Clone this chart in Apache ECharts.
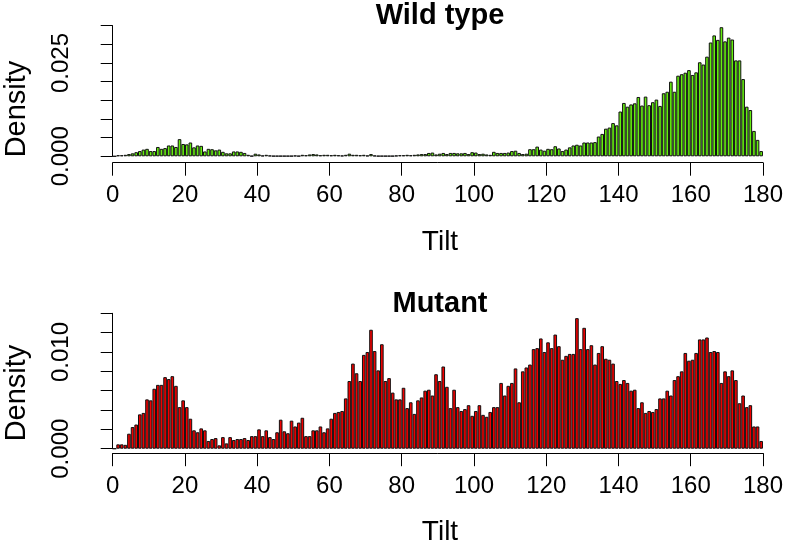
<!DOCTYPE html>
<html><head><meta charset="utf-8">
<script src="https://cdn.jsdelivr.net/npm/echarts@6/dist/echarts.min.js"></script>
<style>html,body{margin:0;padding:0;background:#fff}#c{width:786px;height:554px}</style>
</head><body><div id="c"></div>
<script>
// bin start values (Tilt, width 1)
const bins = [];
for (let i = 0; i < 180; i++) bins.push(String(i));
const xTickLabels = [0, 20, 40, 60, 80, 100, 120, 140, 160, 180];

const wildTypeDensity = [
  0,
  0.0003, 0.0003, 0.0004, 0.0006, 0.0008, 0.0011, 0.0014, 0.0018, 0.0020, 0.0014,
  0.0014, 0.0025, 0.0020, 0.0022, 0.0029, 0.0029, 0.0025, 0.0046, 0.0033, 0.0032,
  0.0037, 0.0024, 0.0029, 0.0028, 0.0013, 0.0020, 0.0019, 0.0016, 0.0018, 0.0012,
  0.0008, 0.0008, 0.0013, 0.0013, 0.0012, 0.0009, 0.0004, 0.0001, 0.0007, 0.0005,
  0.0002, 0.0004, 0.0002, 0.0001, 0.0001, 0.0001, 0.0001, 0.0001, 0.0001, 0.0002,
  0.0001, 0.0004, 0.0003, 0.0005, 0.0006, 0.0005, 0.0003, 0.0004, 0.0004, 0.0003,
  0.0004, 0.0003, 0.0002, 0.0004, 0.0007, 0.0004, 0.0004, 0.0003, 0.0004, 0.0002,
  0.0006, 0.0002, 0.0001, 0.0001, 0.0001, 0.0001, 0.0001, 0.0002, 0.0003, 0.0003,
  0.0004, 0.0003, 0.0004, 0.0005, 0.0006, 0.0006, 0.0009, 0.0010, 0.0005, 0.0007,
  0.0009, 0.0006, 0.0009, 0.0009, 0.0008, 0.0008, 0.0009, 0.0006, 0.0011, 0.0010,
  0.0006, 0.0007, 0.0005, 0.0004, 0.0012, 0.0009, 0.0009, 0.0009, 0.0010, 0.0014,
  0.0015, 0.0009, 0.0006, 0.0007, 0.0019, 0.0019, 0.0026, 0.0018, 0.0015, 0.0020,
  0.0019, 0.0027, 0.0021, 0.0014, 0.0018, 0.0024, 0.0029, 0.0031, 0.0029, 0.0037,
  0.0037, 0.0037, 0.0038, 0.0053, 0.0060, 0.0074, 0.0077, 0.0089, 0.0083, 0.0120,
  0.0143, 0.0133, 0.0139, 0.0142, 0.0159, 0.0136, 0.0160, 0.0137, 0.0145, 0.0152,
  0.0135, 0.0169, 0.0173, 0.0200, 0.0173, 0.0216, 0.0220, 0.0224, 0.0231, 0.0218,
  0.0225, 0.0252, 0.0246, 0.0267, 0.0305, 0.0324, 0.0312, 0.0346, 0.0308, 0.0318,
  0.0313, 0.0257, 0.0257, 0.0207, 0.0133, 0.0124, 0.0068, 0.0044, 0.0014
];

const mutantDensity = [
  0,
  0.00045, 0.00045, 0.0004, 0.00155, 0.00224, 0.0025, 0.00355, 0.0037, 0.0051, 0.0050,
  0.0062, 0.0066, 0.0066, 0.0074, 0.0072, 0.0075, 0.0065, 0.0043, 0.0050, 0.0043,
  0.0031, 0.0019, 0.0017, 0.0021, 0.0019, 0.0008, 0.0010, 0.0011, 0.00035, 0.0012,
  0.00055, 0.0012, 0.0009, 0.0010, 0.0010, 0.0011, 0.0009, 0.0013, 0.0013, 0.0020,
  0.0013, 0.0019, 0.0012, 0.0010, 0.0017, 0.0030, 0.0018, 0.0016, 0.0029, 0.0023,
  0.0027, 0.0032, 0.0013, 0.0013, 0.0019, 0.0019, 0.0023, 0.0017, 0.0021, 0.0031,
  0.0037, 0.0038, 0.0039, 0.0052, 0.0070, 0.0088, 0.0078, 0.0070, 0.0097, 0.0100,
  0.0123, 0.0101, 0.0081, 0.0108, 0.0070, 0.0073, 0.0058, 0.0051, 0.0051, 0.0063,
  0.0042, 0.0048, 0.0036, 0.0050, 0.0053, 0.0060, 0.0061, 0.0055, 0.0077, 0.0070,
  0.0085, 0.0064, 0.0042, 0.0061, 0.0043, 0.0039, 0.0041, 0.0045, 0.0034, 0.0039,
  0.0045, 0.0035, 0.0033, 0.0038, 0.0043, 0.0043, 0.0068, 0.0055, 0.0065, 0.0068,
  0.0083, 0.0048, 0.0080, 0.0084, 0.0087, 0.0103, 0.0104, 0.0114, 0.0100, 0.0110,
  0.0104, 0.0118, 0.0106, 0.0092, 0.0096, 0.0098, 0.0098, 0.0135, 0.0103, 0.0125,
  0.0103, 0.0107, 0.0087, 0.0099, 0.0106, 0.0093, 0.0092, 0.0088, 0.0070, 0.0067,
  0.0071, 0.0068, 0.0060, 0.0061, 0.0042, 0.0048, 0.0037, 0.0039, 0.0038, 0.0041,
  0.0052, 0.0052, 0.0060, 0.0055, 0.0071, 0.0075, 0.0080, 0.0099, 0.0091, 0.0092,
  0.0099, 0.0113, 0.0113, 0.0115, 0.0100, 0.0101, 0.0100, 0.0068, 0.0080, 0.0075,
  0.0081, 0.0071, 0.0047, 0.0055, 0.0043, 0.0045, 0.0023, 0.0023, 0.0008
];

const wildTypeYLabels = ['0.000', '0.025'];
const mutantYLabels = ['0.000', '0.010'];

const FONT = '"Liberation Sans", Arial, Helvetica, sans-serif';
const chart = echarts.init(document.getElementById('c'), null, { renderer: 'canvas' });

function catAxis(gi) {
  return { type: 'category', gridIndex: gi, data: bins, boundaryGap: true, show: false };
}
function valXAxis(gi, off) {
  return {
    type: 'value', gridIndex: gi, min: xTickLabels[0], max: xTickLabels[xTickLabels.length - 1],
    interval: 20, position: 'bottom', offset: off,
    axisLine: { show: true, lineStyle: { color: '#000', width: 1 } },
    axisTick: { show: true, length: 13, inside: false, lineStyle: { color: '#000', width: 1 } },
    axisLabel: { show: true, color: '#000', fontSize: 24, fontFamily: FONT, margin: 21,
      formatter: v => xTickLabels.indexOf(Math.round(v)) >= 0 ? String(Math.round(v)) : '' },
    splitLine: { show: false }
  };
}
function yAxis(gi, max, interval, shown) {
  return {
    type: 'value', gridIndex: gi, min: 0, max: max, interval: interval, offset: 22.7,
    axisLine: { show: true, lineStyle: { color: '#000', width: 1 } },
    axisTick: { show: true, length: 12, inside: false, lineStyle: { color: '#000', width: 1 } },
    axisLabel: { show: true, rotate: 90, color: '#000', fontSize: 24, fontFamily: FONT, margin: 17,
      formatter: v => { const s = v.toFixed(3); return shown.indexOf(s) >= 0 ? s : ''; } },
    splitLine: { show: false }
  };
}
function barSeries(xi, yi, data, color) {
  return {
    type: 'bar', xAxisIndex: xi, yAxisIndex: yi, data: data,
    barWidth: '100%', barCategoryGap: '0%', barGap: '0%', silent: true,
    itemStyle: { color: color, borderColor: '#111', borderWidth: 1 }
  };
}
function txt(x, y, s, size, bold, rot) {
  return { type: 'text', x: x, y: y, rotation: rot || 0, silent: true,
    style: { text: s, fill: '#000', font: (bold ? 'bold ' : '') + size + 'px ' + FONT,
      textAlign: 'center', textVerticalAlign: 'middle' } };
}

chart.setOption({
  animation: false,
  backgroundColor: '#fff',
  grid: [
    { left: 112.7, width: 653.3, top: 25.7, height: 130.6 },
    { left: 112.7, width: 653.3, top: 313.3, height: 135.4 }
  ],
  xAxis: [catAxis(0), valXAxis(0, 6.4), catAxis(1), valXAxis(1, 4.5)],
  yAxis: [yAxis(0, 0.035, 0.005, wildTypeYLabels), yAxis(1, 0.014, 0.002, mutantYLabels)],
  series: [
    barSeries(0, 0, wildTypeDensity, '#66EE11'),
    barSeries(2, 1, mutantDensity, '#F00000')
  ],
  graphic: [
    txt(440, 16, 'Wild type', 29, true),
    txt(440, 304, 'Mutant', 29, true),
    txt(17, 109, 'Density', 29, false, Math.PI / 2),
    txt(17, 393, 'Density', 29, false, Math.PI / 2),
    txt(440, 242, 'Tilt', 28, false),
    txt(440, 532, 'Tilt', 28, false)
  ]
});
</script>
</body></html>
